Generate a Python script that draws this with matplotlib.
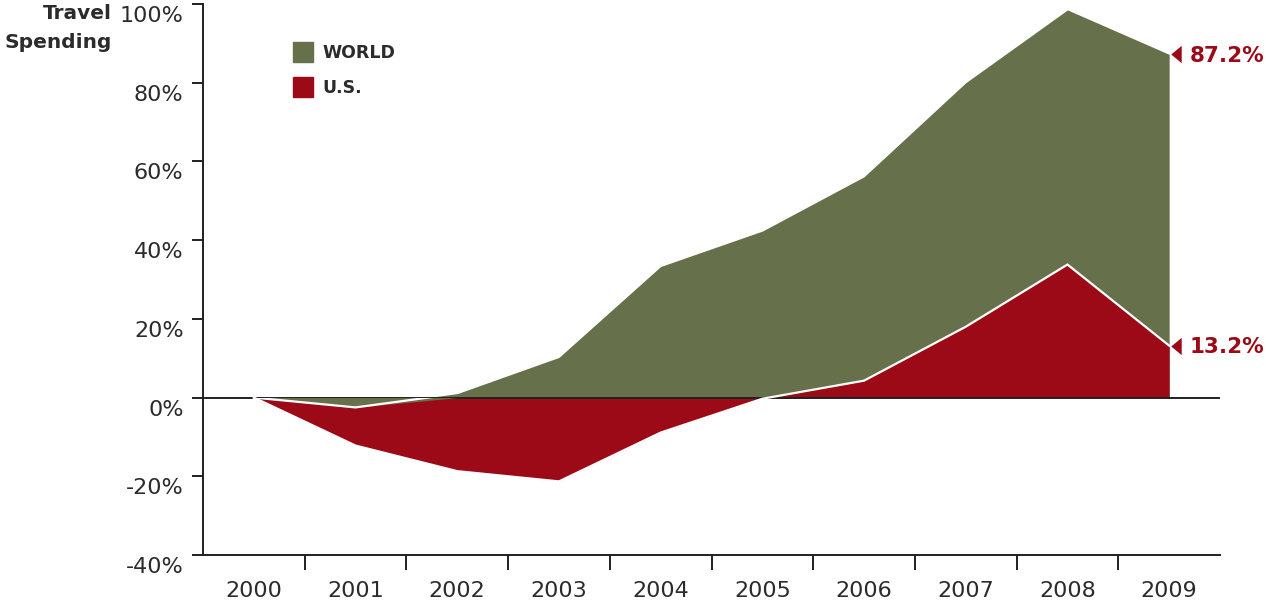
import matplotlib
matplotlib.use("Agg")
import matplotlib.pyplot as plt
from matplotlib.patches import Rectangle
import matplotlib.transforms as mtransforms
import numpy as np

years = ["2000", "2001", "2002", "2003", "2004", "2005", "2006", "2007", "2008", "2009"]
world = [0, -2.5, 1.0, 10.2, 33.3, 42.3, 56.1, 80.0, 98.5, 87.2]
us = [0, -12.2, -18.7, -21.3, -8.9, -0.3, 4.3, 18.0, 33.8, 13.2]
yticks = [-40, -20, 0, 20, 40, 60, 80, 100]

OLIVE = "#66704A"
RED = "#9C0A17"
TXT = "#2b2b2b"
AX = "#231f20"

plt.rcParams['font.family'] = ['DejaVu Sans']

W, H = 1266, 604
fig = plt.figure(figsize=(W / 100, H / 100), dpi=100)
ax = fig.add_axes([203 / W, 1 - 555 / H, (1220 - 203) / W, (555 - 4) / H])

x = np.arange(len(years))
w = np.array(world)
u = np.array(us)

# zero line (behind the white outlines)
ax.axhline(0, color=AX, lw=1.4, zorder=4.5)

# world area
ax.fill_between(x, 0, w, color=OLIVE, lw=0, zorder=2)
# us area with white outline
ax.fill_between(x, 0, u, color=RED, lw=0, zorder=3)
ax.plot(x, u, color="white", lw=1.6, zorder=5, solid_joinstyle="miter")
# world negative part drawn above the U.S. area
clip = Rectangle((-1, -50), 20, 50, transform=ax.transData)
wneg = ax.fill_between(x, 0, np.minimum(w, 0), color=OLIVE, lw=0, zorder=5.5, interpolate=True)
wneg.set_clip_path(clip)
wl, = ax.plot(x, w, color="white", lw=1.6, zorder=6)
wl.set_clip_path(clip)

ax.set_xlim(-0.5, len(years) - 0.5)
ax.set_ylim(-40, 100)

for s in ["top", "right"]:
    ax.spines[s].set_visible(False)
for s in ["left", "bottom"]:
    ax.spines[s].set_color(AX)
    ax.spines[s].set_linewidth(1.4)

ax.set_yticks(yticks)
ax.set_yticklabels([f"{v}%" for v in yticks])
ax.tick_params(axis="y", direction="out", length=8, width=1.4, color=AX,
               labelsize=16, labelcolor=TXT, pad=6)
off = mtransforms.ScaledTranslation(0, -10 / 100, fig.dpi_scale_trans)
for lbl in ax.get_yticklabels():
    lbl.set_transform(lbl.get_transform() + off)

ax.set_xticks(x)
ax.set_xticklabels(years)
ax.tick_params(axis="x", which="major", length=0, labelsize=16, labelcolor=TXT, pad=19)
ax.set_xticks(x[:-1] + 0.5, minor=True)
ax.tick_params(axis="x", which="minor", direction="out", length=11, width=1.4, color=AX)

# y-axis title
fig.text(112 / W, 1 - 19 / H, "Travel", ha="right", va="baseline",
         fontsize=14.5, fontweight="bold", color=TXT)
fig.text(112 / W, 1 - 48 / H, "Spending", ha="right", va="baseline",
         fontsize=14.5, fontweight="bold", color=TXT)

# legend
for yy, col, lab in [(52, OLIVE, "WORLD"), (87, RED, "U.S.")]:
    fig.patches.append(Rectangle((293 / W, 1 - (yy + 10) / H), 20 / W, 20 / H,
                                 transform=fig.transFigure, color=col, figure=fig))
    fig.text(322 / W, 1 - (yy + 1) / H, lab, ha="left", va="center", fontsize=12.5,
             fontweight="bold", color=TXT)

# end annotations
tri = [(-0.6, 0), (0.6, 1), (0.6, -1), (-0.6, 0)]
shift = mtransforms.ScaledTranslation(7 / 100, 0, fig.dpi_scale_trans)
for val in [world[-1], us[-1]]:
    ax.plot([len(years) - 1], [val], marker=tri, color=RED, markersize=12.5,
            markeredgewidth=0, clip_on=False, zorder=7,
            transform=ax.transData + shift)
    ax.annotate(f"{val:.1f}%", xy=(len(years) - 1, val), xytext=(14.5, -1),
                textcoords="offset points", ha="left", va="center",
                fontsize=15.5, fontweight="bold", color=RED, annotation_clip=False)

fig.savefig("out.png", dpi=100)
